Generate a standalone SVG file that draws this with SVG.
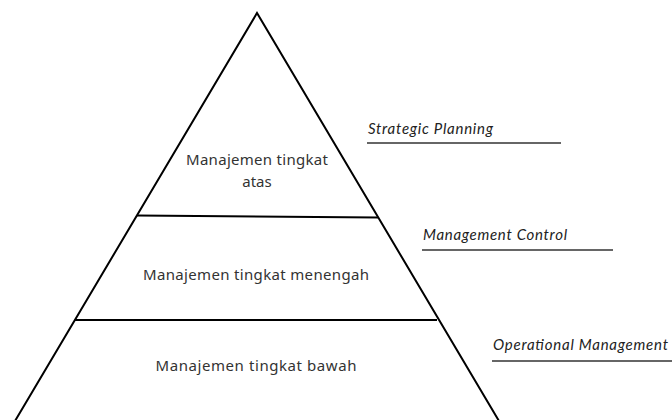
<svg xmlns="http://www.w3.org/2000/svg" width="672" height="420" viewBox="0 0 672 420">
<style>
.edge{stroke:#000;stroke-width:2;fill:none}
.ul{stroke:#333;stroke-width:1.5}
.lvl{font-family:"Noto Sans","Liberation Sans",sans-serif;font-size:15px;fill:#333;text-anchor:middle}
.lab{font-family:Lato,"Open Sans","Liberation Sans",sans-serif;font-style:italic;font-size:15px;fill:#222}
</style>
<rect width="672" height="420" fill="#fff"/>
<g id="connectors">
<path class="edge" d="M15,421 L257,13 L499,421"/>
<line class="edge" x1="137" y1="215.5" x2="378" y2="217.5"/>
<line class="edge" x1="75" y1="320" x2="437" y2="320"/>
</g>
<g id="top">
<text class="lvl" x="257" y="165" textLength="142">Manajemen tingkat</text>
<text class="lvl" x="257" y="187">atas</text>
</g>
<g id="middle">
<text class="lvl" x="256" y="280" textLength="226">Manajemen tingkat menengah</text>
</g>
<g id="bottom">
<text class="lvl" x="256" y="371" textLength="201">Manajemen tingkat bawah</text>
</g>
<g id="strategic">
<text class="lab" x="368" y="134" textLength="125">Strategic Planning</text>
<line class="ul" x1="367" y1="143" x2="561" y2="143"/>
</g>
<g id="control">
<text class="lab" x="423" y="240" textLength="144">Management Control</text>
<line class="ul" x1="422" y1="250" x2="613" y2="250"/>
</g>
<g id="operational">
<text class="lab" x="493" y="350" textLength="175">Operational Management</text>
<line class="ul" x1="492" y1="361" x2="672" y2="361"/>
</g>
</svg>
